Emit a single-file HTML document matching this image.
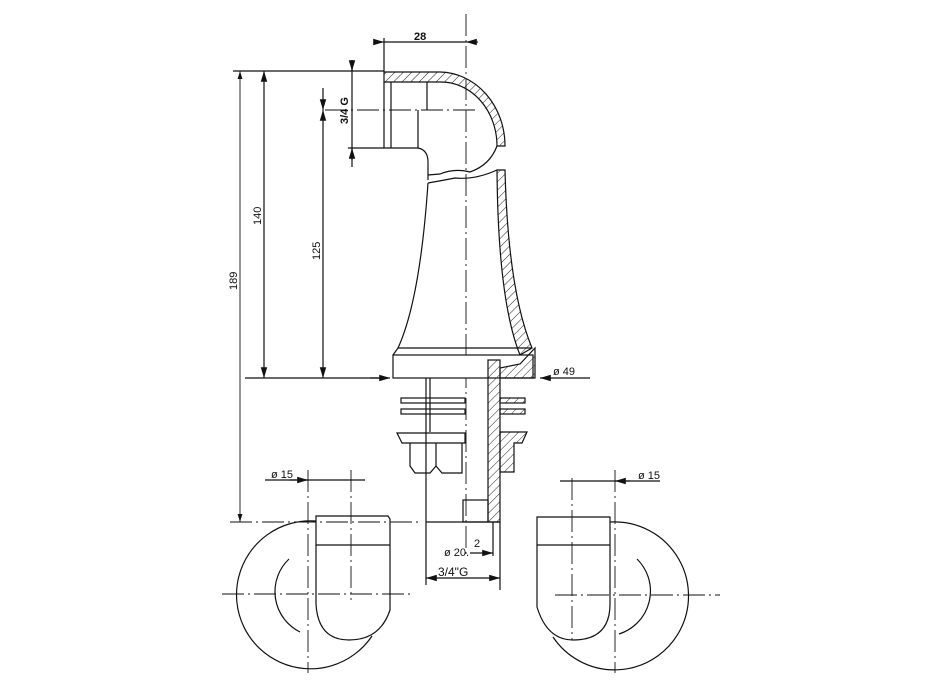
<!DOCTYPE html>
<html><head><meta charset="utf-8"><style>
html,body{margin:0;padding:0;background:#fff;width:928px;height:686px;overflow:hidden}
svg text{font-family:"Liberation Sans",sans-serif;fill:#111}
</style></head><body>
<svg width="928" height="686" viewBox="0 0 928 686" xmlns="http://www.w3.org/2000/svg">
<defs>
<pattern id="h" width="6" height="6" patternUnits="userSpaceOnUse" patternTransform="rotate(45)">
<line x1="0" y1="0" x2="0" y2="6" stroke="#222" stroke-width="1"/></pattern>
<marker id="a" viewBox="0 0 10 10" refX="10" refY="5" markerWidth="9" markerHeight="9" orient="auto-start-reverse"><path d="M0,2 L10,5 L0,8z" fill="#111"/></marker>
</defs>
<g fill="none" stroke="#111" stroke-width="1.2">
<g stroke-dasharray="22,4,2,4" stroke-width="0.9">
<line x1="466" y1="14" x2="466" y2="555"/>
<line x1="325" y1="110" x2="478" y2="110"/>
<line x1="222" y1="594" x2="414" y2="594"/>
<line x1="308" y1="470" x2="308" y2="673"/>
<line x1="351" y1="470" x2="351" y2="600"/>
<line x1="555" y1="595" x2="720" y2="595"/>
<line x1="572" y1="478" x2="572" y2="640"/>
<line x1="615" y1="470" x2="615" y2="673"/>
<line x1="230" y1="522" x2="420" y2="522"/>
</g>
<line x1="375" y1="42" x2="384" y2="42" marker-end="url(#a)"/>
<line x1="384" y1="42" x2="466" y2="42"/>
<line x1="478" y1="42" x2="466" y2="42" marker-end="url(#a)"/>
<line x1="384" y1="38" x2="384" y2="72"/>
<line x1="233" y1="71" x2="384" y2="71"/>
<line x1="245" y1="378" x2="388" y2="378" />
<line x1="370" y1="378" x2="390" y2="378" marker-end="url(#a)"/>
<line x1="240" y1="71" x2="240" y2="522" marker-start="url(#a)" marker-end="url(#a)" stroke-width="0.9"/>
<line x1="264" y1="71" x2="264" y2="378" marker-start="url(#a)" marker-end="url(#a)"/>
<line x1="323" y1="88" x2="323" y2="110" marker-end="url(#a)"/>
<line x1="323" y1="110" x2="323" y2="378" marker-start="url(#a)" marker-end="url(#a)"/>
<line x1="352" y1="60" x2="352" y2="167"/>
<line x1="352" y1="60" x2="352" y2="71" marker-end="url(#a)"/>
<line x1="352" y1="160" x2="352" y2="148" marker-end="url(#a)"/>
<line x1="348" y1="148" x2="384" y2="148"/>
<path d="M384,72 L440,72 A66,74 0 0 1 505,146 L497,146 A56,64 0 0 0 440,82 L384,82 Z" fill="url(#h)"/>
<path d="M384,82 L384,148 L418,148 Q428,150 428,162 L428,180"/>
<line x1="391" y1="82" x2="391" y2="148"/>
<line x1="427" y1="82" x2="427" y2="110"/>
<line x1="418" y1="110" x2="418" y2="148"/>
<path d="M497,146 Q490,165 470,172 Q455,168 440,174 L428,175"/>
<path d="M428,183 Q445,180 455,178 Q475,180 497,170"/>
<path d="M428,183 Q420,300 398,348"/>
<path d="M497,170 L505,170 Q508,290 532,348 L520,355 Q498,300 497,170 Z" fill="url(#h)"/>
<rect x="393" y="355" width="140" height="23" fill="#fff"/>
<path d="M393,355 L398,348 L532,348" />
<path d="M500,378 L500,368 L520,364 L535,348 L535,378 Z" fill="url(#h)"/>
<line x1="590" y1="378" x2="540" y2="378" marker-end="url(#a)"/>
<line x1="426" y1="378" x2="426" y2="522"/>
<line x1="430" y1="378" x2="430" y2="432"/>
<rect x="488" y="360" width="12" height="162" fill="url(#h)"/>
<line x1="426" y1="522" x2="500" y2="522"/>
<rect x="463" y="500" width="25" height="22"/>
<rect x="401" y="398" width="64" height="5"/>
<rect x="401" y="409" width="64" height="5"/>
<rect x="500" y="398" width="25" height="5" fill="url(#h)"/>
<rect x="500" y="409" width="25" height="5" fill="url(#h)"/>
<path d="M397,433 L465,433 L465,443 L402,443 Z"/>
<path d="M410,443 L410,466 L415,473 L430,473 L436,466 L442,473 L462,473 L462,443"/>
<line x1="436" y1="443" x2="436" y2="466"/>
<path d="M500,432 L527,432 L522,443 L514,443 L514,472 L500,472 Z" fill="url(#h)"/>
<line x1="426" y1="522" x2="426" y2="585"/>
<line x1="500" y1="522" x2="500" y2="590"/>
<line x1="493" y1="522" x2="493" y2="556"/>
<line x1="470" y1="553" x2="493" y2="553" marker-end="url(#a)"/>
<line x1="426" y1="578" x2="500" y2="578" marker-start="url(#a)" marker-end="url(#a)"/>
<line x1="265" y1="480" x2="365" y2="480"/>
<line x1="290" y1="480" x2="308" y2="480" marker-end="url(#a)"/>
<line x1="660" y1="481" x2="560" y2="481"/>
<line x1="630" y1="481" x2="615" y2="481" marker-end="url(#a)"/>
<path d="M316,521 A74,74 0 1 0 372,636"/>
<path d="M289,559 A45,45 0 0 0 300,632"/>
<path d="M316,516 L388,516 L390,519 L390,545 L316,545 Z"/>
<path d="M316,545 L316,604 Q318,640 349,640 Q380,640 390,610 L390,545"/>
<path d="M610,522 A74,74 0 1 1 553,637"/>
<path d="M637,559 A45,45 0 0 1 619,634"/>
<path d="M537,517 L610,517 L610,545 L537,545 L537,519 Z"/>
<path d="M537,545 L537,607 Q547,640 573,640 Q610,640 610,604 L610,545"/>
</g>
<g font-size="11">
<text x="414" y="40" font-weight="bold">28</text>
<text x="553" y="375">ø 49</text>
<text x="444" y="556">ø 20.</text><text x="474" y="547">2</text>
<text x="438" y="576" font-size="12">3/4"G</text>
<text x="271" y="478">ø 15</text>
<text x="638" y="479">ø 15</text>
<text transform="translate(237,290) rotate(-90)">189</text>
<text transform="translate(261,225) rotate(-90)">140</text>
<text transform="translate(320,260) rotate(-90)">125</text>
<text transform="translate(348,124) rotate(-90)" font-weight="bold">3/4 G</text>
</g>
</svg>
</body></html>
